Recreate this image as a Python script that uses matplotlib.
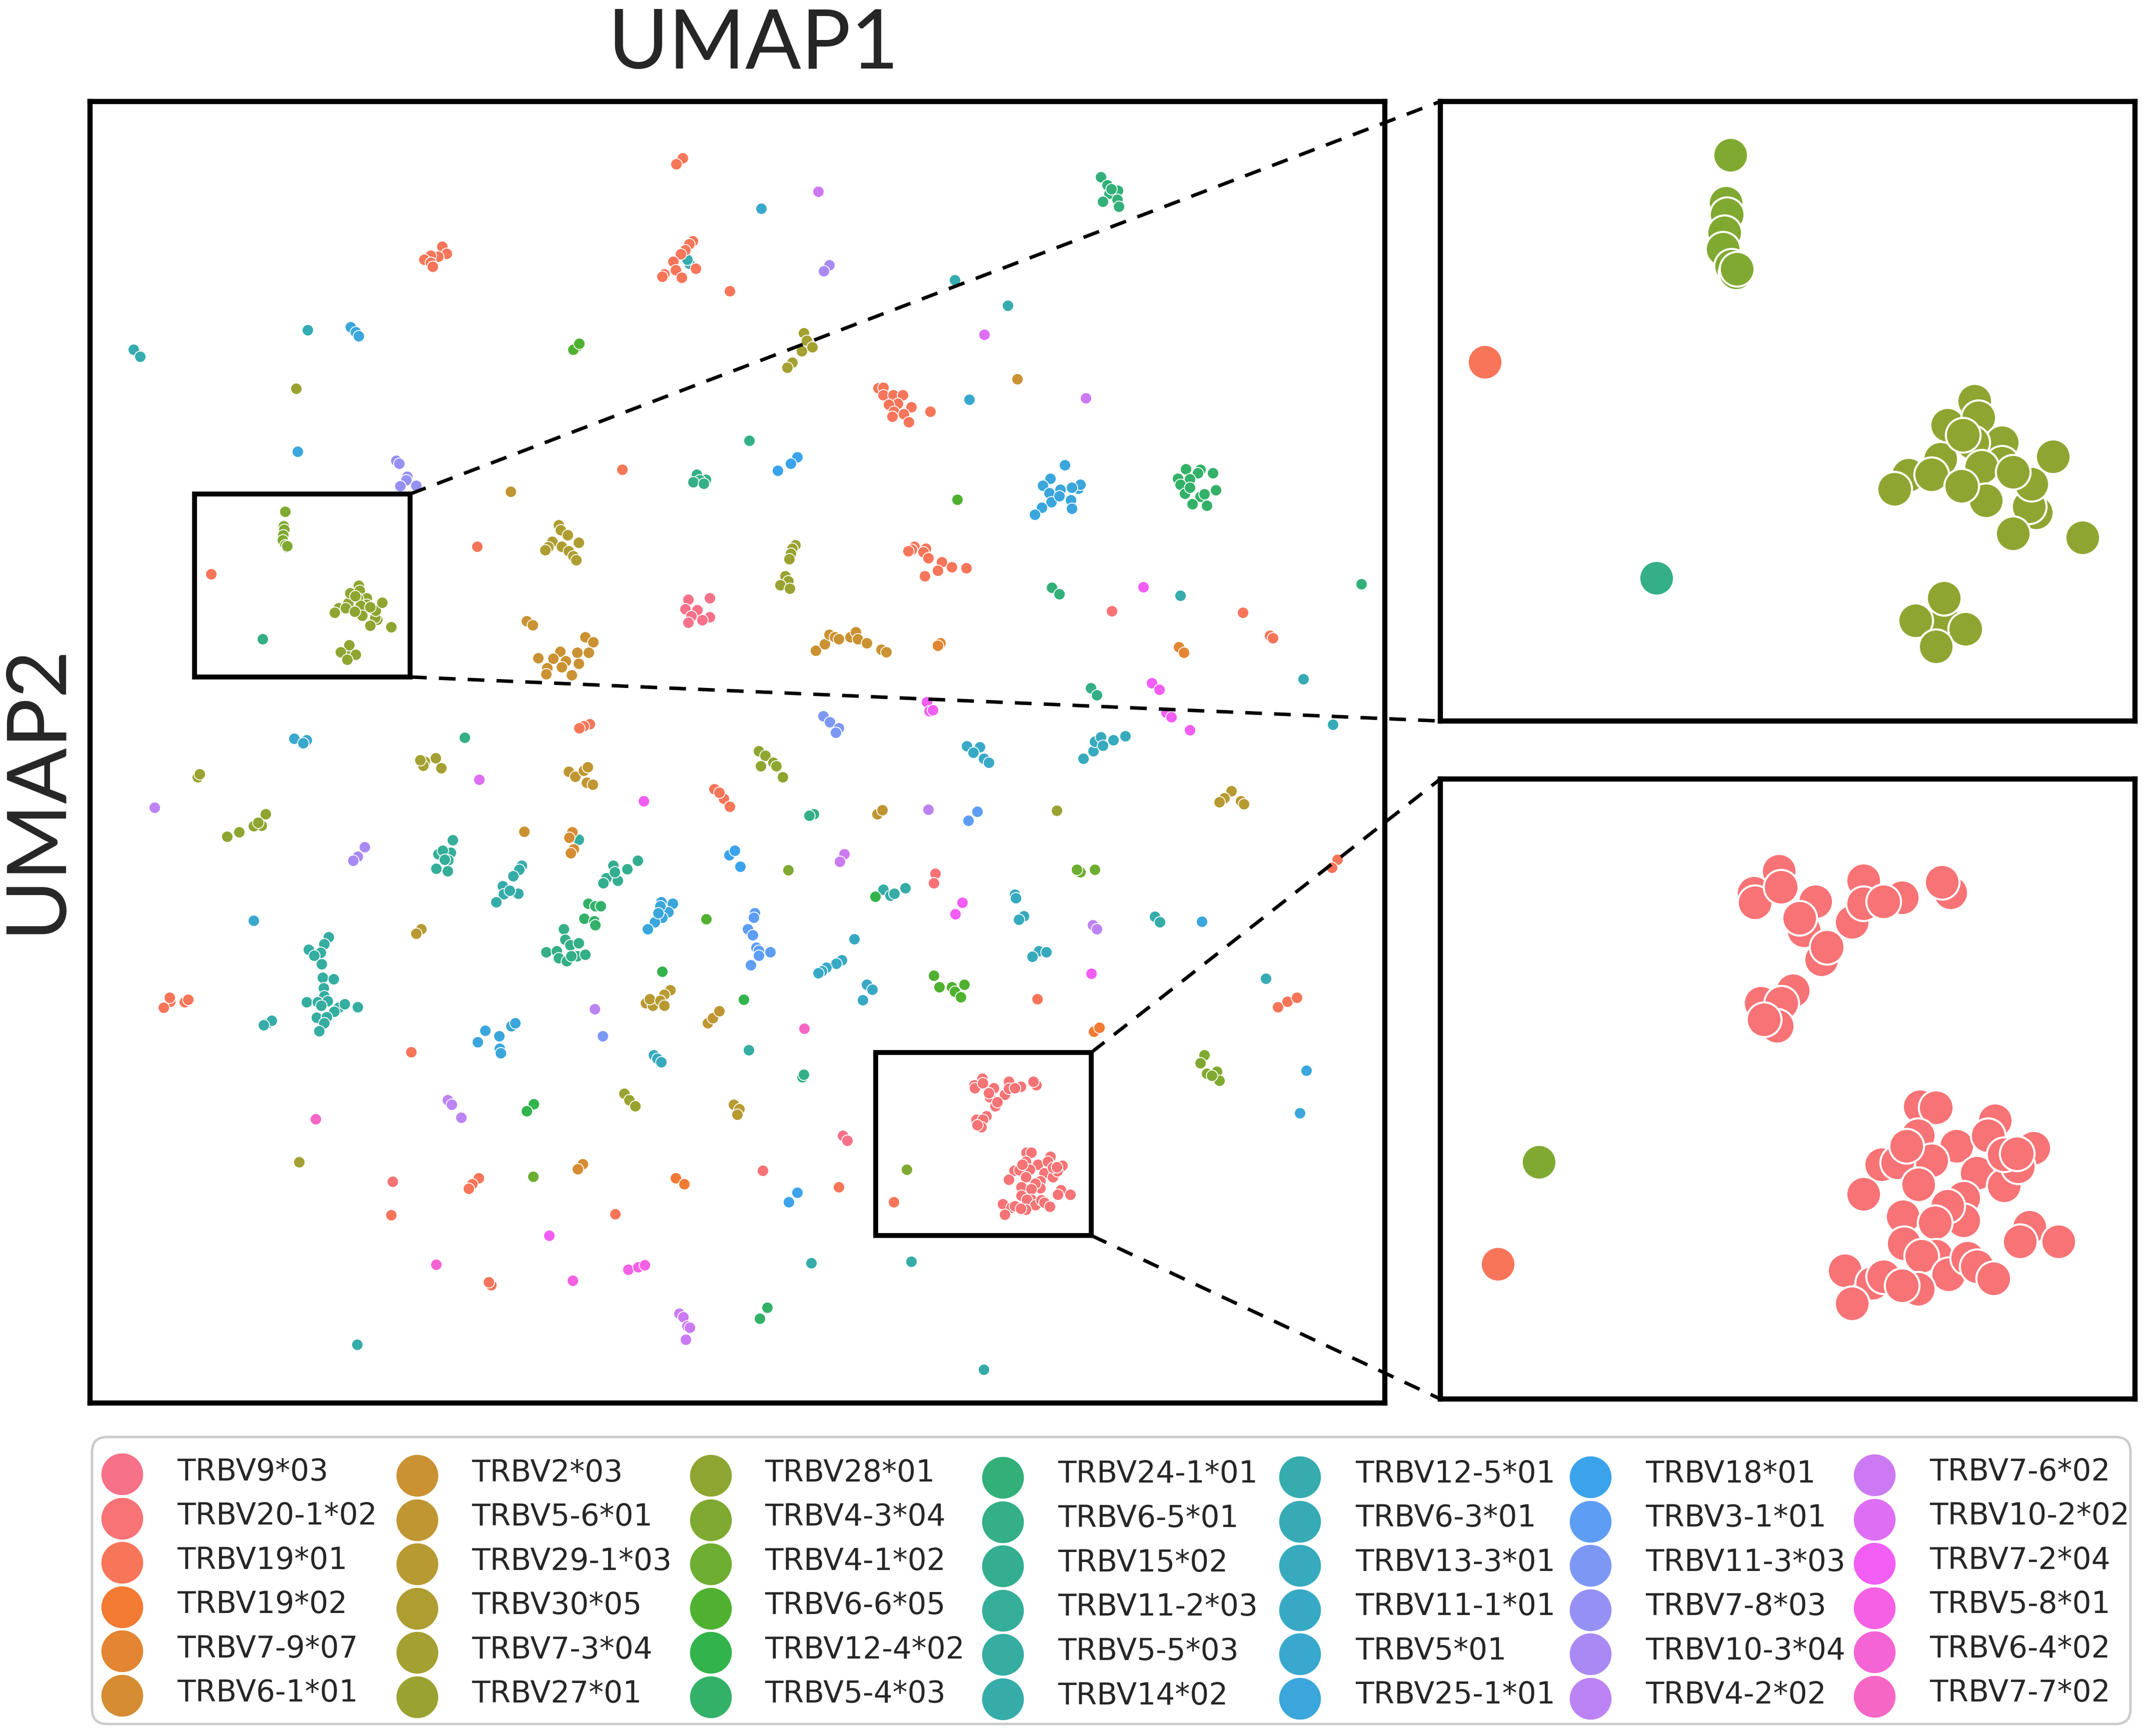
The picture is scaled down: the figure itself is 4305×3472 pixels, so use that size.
import matplotlib
matplotlib.use("Agg")
import matplotlib.pyplot as plt
from matplotlib.patches import FancyBboxPatch, Rectangle
import seaborn as sns

# ---- data (UMAP embedding, in the chart's plotting units) ----
TRBV9_03 = [(1376,1199),(1419,1196),(1370,1218),(1394,1220),(1382,1232),(1419,1234),(1376,1245),(1404,1240),(1685,2271),(1694,2281)]
TRBV20_1_02 = [(1963.7,2156.5),(1948,2170.3),(1948.5,2176.3),(1986.5,2175.5),(1979.4,2193.8),(1976.5,2186),(1965,2166.4),
    (2016.6,2162.5),(2009.4,2188.6),(2040.9,2173),(2016.6,2176.8),(2029.4,2175.5),(1990.3,2212),(1993.7,2204.2),(2071.5,2169.8),(2066,2163.3),
    (1972.3,2231.6),(1952.2,2239.4),(1965.1,2239.4),(1962.3,2253.8),(1954.2,2249.8),
    (2052.3,2304.6),(2062.3,2305.1),(2099.5,2313.2),(2075.2,2329.4),(2095.2,2322.9),(2123.8,2330.7),(2050.9,2322.9),(2059.4,2338.5),(2028,2341),
    (2038,2339.8),(2043.7,2329.4),(2051.4,2353.6),(2016.6,2359.4),(2088,2346.3),(2105.2,2354.2),(2113.8,2342.4),(2105.2,2334.6),(2113.2,2334),
    (2079.5,2362),(2079.5,2376.3),(2069.5,2367.2),(2041.7,2373.7),(2061.7,2377.6),(2042.3,2390.6),(2062.3,2398.5),(2053.2,2398.5),(2070.3,2410.2),
    (2082.3,2399.8),(2088,2405),(2098.6,2412.8),(2121,2380.2),(2115.2,2389.3),(2139.5,2389.3),(2005.1,2407.6),(2022.3,2415.4),(2029.4,2411.5),
    (2050.9,2419.3),(2040.9,2417.2),(2009.4,2428.5),
    (785,2363),(2223,1222),(1870,1747),(1867,1766),(1525,2341)]
TRBV19_01 = [(884,493),(893,507),(876,513),(861,511),(848,519),(861,525),(865,533),(1365,316),(1352,328),
    (1385,482),(1378,488),(1370,500),(1361,508),(1346,523),(1351,540),(1391,537),(1363,555),(1328,548),(1324,553),
    (1459,582),(1244,939),(954,1093),(421.8,1147.8),(1179,1448),(1167,1452),(1158,1456),(1428,1578),(1447,1597),(1459,1613),(1438,1585),
    (340,2003),(369,2004),(327,2015),(376,1999),(339,1995),(822,2104),(782,2430),(957,2356),(944,2368),(937,2377),(1230,2428),(982,2570),(977,2564),
    (1756,776),(1766,775),(1766,790),(1786,790),(1805,790),(1795,807),(1777,809),(1822,814),(1787,823),(1784,833),(1807,828),(1817,844),(1860,823),
    (1828,1093),(1851,1097),(1823,1099),(1846,1104),(1856,1116),(1883,1124),(1875,1141),(1849,1152),(1903,1134),(1932,1136),(1816,1102),
    (2485,1225),(2539,1271),(2545,1276),(2074,1998),(2555,2014),(2574,2003),(2593,1995),(2674,1719),(2663,1735),(1677,2374),(1787,2403.7)]
TRBV19_02 = [(1351,2356),(1368,2368),(2187,2063),(2198,2055)]
TRBV7_9_07 = [(1880,1286),(1875,1291),(2357,1294),(2367,1305)]
TRBV6_1_01 = [(1144,1664),(1138,1675),(1147,1698),(1141,1706),(1165,2328),(1155,2338)]
TRBV2_03 = [(1053,1242),(1065,1250),(1170,1274),(1186,1284),(1177,1305),(1154,1305),(1120,1303),(1076,1316),(1106,1317),(1131,1322),(1157,1327),
    (1094,1336),(1123,1334),(1143,1350),(1092,1348),(1048,1663),(2034,758),(1631,1301),(1649,1288),(1658,1269),(1669,1274),(1677,1278),(1700,1274),
    (1711,1264),(1715,1278),(1733,1286),(1762,1299),(1772,1304)]
TRBV5_6_01 = [(1021,983),(1137,1543),(1150,1553),(1167,1541),(1175,1534),(1173,1565),(1185,1569),(1415,2046),(1425,2036),(1438,2022),(1754,1628),(1764,1620)]
TRBV29_1_03 = [(842,1858),(832,1867),(1340,1980),(1328,1989),(1291,2006),(1305,2011),(1299,1998),(1320,2001),(1328,2011),(1467,2209),(1478,2218),(1474,2229),
    (2462,1582),(2448,1596),(2438,1604),(2481,1602),(2487,1608)]
TRBV30_05 = [(1117,1050),(1121,1060),(1135,1070),(1104,1083),(1157,1085),(1123,1093),(1096,1094),(1090,1100),(1137,1102),(1146,1112),(1152,1120)]
TRBV7_3_04 = [(849,1523),(871,1516),(882,1536),(846,1531),(840,1520),(598,2324),(1607,666),(1613,681),(1624,694),(1603,702),(1584,725),(1574,735)]
TRBV27_01 = [(592,777),(395,1554),(399,1548),(1248,2187),(1258,2200),(1270,2212),(1590,1090),(1584,1097),(1581,1107),(1578,1118),(1570,1152),(1576,1162),
    (1560,1170),(1579,1177),(2113,1621)]
TRBV28_01 = [(677,1216),(696.2,1206.3),(716.7,1171.3),(700.3,1185.8),(719,1181.3),(733.2,1196.3),(733.2,1208.8),(715.4,1196.3),(720.8,1211.3),(753.7,1238.7),
    (749.6,1235),(751,1221.3),(723.6,1231.3),(709.9,1191.8),(668.5,1224.5),(690.7,1215.8),(709,1222.5),(740,1214.3),(764,1204.8),(740,1251.2),(781.9,1253.7),
    (698.4,1305),(698.4,1290),(681.1,1303.7),(711.3,1308.7),(693.5,1319.2),
    (531,1628),(523,1651),(507,1652),(478,1664),(454,1673),(516,1645),(1517,1502),(1530,1511),(1521,1532),(1546,1525),(1552,1532),(1565,1554)]
TRBV4_3_04 = [(569.7,1023.2),(567,1052),(567.5,1059),(566,1070),(565.3,1080),(570.2,1090),(573,1094),(573.5,1092),(1812.7,2339.3),(1576,1740),
    (2408,2110),(2400,2126),(2413,2147),(2433,2143),(2438,2161),(2423,2151)]
TRBV4_1_02 = [(1066,2353),(2160,1744),(2189,1739),(2153,1739)]
TRBV6_6_05 = [(1154,692),(1146,699),(1158,687),(1412,1838),(1914,999),(1867,1951),(1878,1974),(1903,1974),(1909,1983),(1928,1969),(1921,1994)]
TRBV12_4_02 = [(1324,1943),(1067,2208),(1053,2222),(1487,1999),(1750,1793)]
TRBV5_4_03 = [(1176,1807),(1190,1812),(1201,1812),(1168,1837),(1188,1842),(1190,1850),(2371,938),(2400,939),(2395,946),(2425,946),(2355,957),(2379,958),
    (2360,969),(2431,980),(2369,987),(2400,993),(2408,988),(2384,1008),(2413,1011),(2379,975),(1534,2615),(1519,2637)]
TRBV24_1_01 = [(2201,354),(2214,370),(2235,381),(2218,387),(2234,399),(2205,403),(2237,413),(2222,378),(2103,1175),(2118,1188),(2722,1168)]
TRBV6_5_01 = [(1393,949),(1411,959),(1399,960),(1386,964),(1407,967),(929,1475),(1127,1858),(1130,1879),(1140,1890),(1157,1886),(1092,1904),(1113,1902),
    (1117,1916),(1133,1922),(1154,1912),(1170,1909),(1142,1912),(1498,881),(2181,1376),(2193,1390),(1627,1628),(1618,1631),(1604,2154),(1607,2149),(525,1278)]
TRBV15_02 = [(1275,1721),(1254,1738),(1226,1731),(1235,1761),(1212,1756),(1206,1766),(1229,1744)]
TRBV11_2_03 = [(905,1680),(876,1708),(901,1705),(885,1701),(896,1720),(872,1737),(895,1742),(889,1719)]
TRBV5_5_03 = [(1157,1679),(657,1874),(648,1888),(641,1905),(617,1899),(628,1911),(643,1928),(645,1955),(667,1958),(647,1976),(648,1992),(613,2004),(635,2004),
    (655,2002),(642,2011),(677,2015),(689,2008),(668,2023),(715,2014),(633,2035),(653,2034),(648,2046),(638,2062),(1497,2100)]
TRBV14_02 = [(1043,1731),(1038,1739),(1026,1752),(1005,1772),(1007,1788),(1036,1787),(992,1804),(1019,1781),(535,2046),(543,2041),(527,2050),(714,2689),
    (1766,1779),(1780,1791),(1810,1776),(1788,1787),(2309,1833),(2319,1844),(1622,2526),(1822,2523),(1967,2739)]
TRBV12_5_01 = [(267,699),(280,713),(1909,560),(2015,611),(2360,1191),(1378,527),(1374,519)]
TRBV6_3_01 = [(615,660),(2606,1358),(2665,1449),(2531,1957)]
TRBV13_3_01 = [(1307,2110),(1314,2117),(1322,2124),(2166,1517),(2186,1502),(2189,1483),(2201,1474),(2205,1491),(2226,1480),(2250,1472),(2029,1789),(2031,1796),
    (2047,1832),(2037,1839),(2077,1902),(2092,1904),(2064,1913)]
TRBV11_1_01 = [(1933,1492),(1959,1494),(1946,1505),(1967,1517),(1977,1525),(1708,1878),(1683,1920),(1672,1927),(1652,1935),(1643,1942),(1636,1946),
    (1733,1969),(1744,1979),(1725,2000)]
TRBV5_01 = [(588,1477),(613,1480),(606,1486),(507,1841),(1522,417),(1938,799)]
TRBV25_1_01 = [(701,654),(711,664),(717,672),(595,903),(1345,1807),(1322,1804),(1336,1824),(1320,1812),(1324,1835),(1309,1844),(1295,1858),(1316,1826),
    (970,2061),(955,2084),(998,2072),(1022,2052),(1030,2046),(999,2097),(1001,2106),(2129,930),(2100,957),(2085,971),(2120,979),(2098,986),(2156,977),(2160,969),
    (2141,1000),(2143,1017),(2102,1004),(2083,1015),(2069,1029),(2118,992),(2143,975),(2403,1843),(2612,2141),(2599,2226)]
TRBV18_01 = [(1458,1710),(1469,1701),(1480,1733),(1594,914),(1581,927),(1555,941),(1594,2385),(1577,2404)]
TRBV3_1_01 = [(1954,1623),(1936,1641),(1509,1826),(1507,1835),(1495,1858),(1505,1870),(1512,1895),(1517,1901),(1540,1904),(1517,1911),(1501,1930)]
TRBV11_3_03 = [(1205,2072),(1646,1432),(1659,1444),(1677,1456),(1671,1465)]
TRBV7_8_03 = [(792,921),(798,927),(814,953),(812,960),(832,971),(800,972)]
TRBV10_3_04 = [(729,1694),(715,1713),(706,1721),(1658,530),(1647,542)]
TRBV4_2_02 = [(309,1615),(1189,2018),(895,2200),(903,2209),(922,2235),(1856,1619),(2185,1850),(2193,1858)]
TRBV7_6_02 = [(1636,383),(2171,796),(1358,2627),(1366,2634),(1374,2652),(1379,2655),(1371,2679),(1688,1708),(1679,1723)]
TRBV10_2_02 = [(958,1559),(1968,669)]
TRBV7_2_04 = [(1287,1602),(1098,2471),(2286,1174),(2303,1366),(2318,1379),(1853,1404),(1858,1422),(1865,1420),(2332,1425),(2342,1434),(2379,1460),(1924,1805),(1910,1828),(2182,1947)]
TRBV5_8_01 = [(1145,2561),(1256,2539),(1276,2534),(1289,2530)]
TRBV6_4_02 = [(872,2529)]
TRBV7_7_02 = [(631,2238),(1608,2057)]

genes = ["TRBV9*03","TRBV20-1*02","TRBV19*01","TRBV19*02","TRBV7-9*07","TRBV6-1*01",
         "TRBV2*03","TRBV5-6*01","TRBV29-1*03","TRBV30*05","TRBV7-3*04","TRBV27*01",
         "TRBV28*01","TRBV4-3*04","TRBV4-1*02","TRBV6-6*05","TRBV12-4*02","TRBV5-4*03",
         "TRBV24-1*01","TRBV6-5*01","TRBV15*02","TRBV11-2*03","TRBV5-5*03","TRBV14*02",
         "TRBV12-5*01","TRBV6-3*01","TRBV13-3*01","TRBV11-1*01","TRBV5*01","TRBV25-1*01",
         "TRBV18*01","TRBV3-1*01","TRBV11-3*03","TRBV7-8*03","TRBV10-3*04","TRBV4-2*02",
         "TRBV7-6*02","TRBV10-2*02","TRBV7-2*04","TRBV5-8*01","TRBV6-4*02","TRBV7-7*02"]
points = [TRBV9_03,TRBV20_1_02,TRBV19_01,TRBV19_02,TRBV7_9_07,TRBV6_1_01,
          TRBV2_03,TRBV5_6_01,TRBV29_1_03,TRBV30_05,TRBV7_3_04,TRBV27_01,
          TRBV28_01,TRBV4_3_04,TRBV4_1_02,TRBV6_6_05,TRBV12_4_02,TRBV5_4_03,
          TRBV24_1_01,TRBV6_5_01,TRBV15_02,TRBV11_2_03,TRBV5_5_03,TRBV14_02,
          TRBV12_5_01,TRBV6_3_01,TRBV13_3_01,TRBV11_1_01,TRBV5_01,TRBV25_1_01,
          TRBV18_01,TRBV3_1_01,TRBV11_3_03,TRBV7_8_03,TRBV10_3_04,TRBV4_2_02,
          TRBV7_6_02,TRBV10_2_02,TRBV7_2_04,TRBV5_8_01,TRBV6_4_02,TRBV7_7_02]
palette = sns.color_palette("husl", 45)[:len(genes)]

# ---- layout ----
W, H, DPI = 4305, 3472, 100
fig = plt.figure(figsize=(W/DPI, H/DPI), dpi=DPI, facecolor="white")

def axes_px(l, t, r, b, **kw):
    return fig.add_axes([l/W, 1-b/H, (r-l)/W, (b-t)/H], **kw)

def draw_points(ax, s, lw):
    for i in range(len(genes)-1, -1, -1):
        xs = [p[0] for p in points[i]]
        ys = [p[1] for p in points[i]]
        ax.scatter(xs, ys, s=s, color=palette[i], edgecolor="white", linewidth=lw)

MAIN = (180, 203, 2769, 2806)
INS1 = (2880, 203, 4269, 1442)
INS2 = (2880, 1558, 4269, 2798)
BOX1 = (389, 988, 820, 1354)
BOX2 = (1751, 2105, 2182, 2471)
VIEW1 = (395, 991, 813.4, 1364.2)
VIEW2 = (1750.7, 2098.5, 2187.5, 2488.5)

for rect, view, s, lw in [(MAIN, (180, 203, 2769, 2806), 270, 1.3),
                          (INS1, VIEW1, 2500, 3.0),
                          (INS2, VIEW2, 2500, 3.0)]:
    ax = axes_px(*rect)
    draw_points(ax, s, lw)
    ax.set_xlim(view[0], view[2])
    ax.set_ylim(view[3], view[1])
    ax.set_xticks([]); ax.set_yticks([])
    for sp in ax.spines.values():
        sp.set_linewidth(7.5)
        sp.set_color("black")

# overlay in figure pixel units
ov = fig.add_axes([0, 0, 1, 1], facecolor="none", zorder=10)
ov.set_xlim(0, W); ov.set_ylim(H, 0); ov.axis("off")

for l, t, r, b in (BOX1, BOX2):
    ov.add_patch(Rectangle((l, t), r-l, b-t, fill=False, ec="black", lw=7))
dash = (0, (4.8, 3.5))
for (x0, y0), (x1, y1) in [((BOX1[2], BOX1[1]), (INS1[0], INS1[1])),
                           ((BOX1[2], BOX1[3]), (INS1[0], INS1[3])),
                           ((BOX2[2], BOX2[1]), (INS2[0], INS2[1])),
                           ((BOX2[2], BOX2[3]), (INS2[0], INS2[3]))]:
    ov.plot([x0, x1], [y0, y1], color="black", lw=5, ls=dash, dash_capstyle="butt")

ov.text(1506, 90, "UMAP1", fontsize=119, family="Lato", color="#262626", ha="center", va="center")
ov.text(73, 1577, "UMAP2", fontsize=119, family="Lato", color="#262626", ha="center", va="center", rotation=90)

# legend
ov.add_patch(FancyBboxPatch((208, 2874+24), 4260-208-24, 3448-2874-48,
                            boxstyle="round,pad=24,rounding_size=30",
                            fc="white", ec="#cccccc", lw=3.6))
marker_x = [244, 834, 1421, 2005, 2599, 3180, 3748]
text_x = [354, 943, 1529, 2115, 2710, 3290, 3858]
marker_y0 = [2948, 2951, 2951, 2955, 2954, 2954, 2950]
text_y0 = [2944, 2946, 2946, 2949, 2948, 2948, 2944]
STEP = 88.6
for i, g in enumerate(genes):
    c, r = i // 6, i % 6
    ov.scatter([marker_x[c]], [marker_y0[c] + r*STEP], s=3800, color=palette[i], edgecolor="white", linewidth=1.5)
    ov.text(text_x[c], text_y0[c] + r*STEP, g, fontsize=43, family="DejaVu Sans", color="#262626", ha="left", va="center")

fig.savefig("out.png", dpi=DPI, facecolor="white")
